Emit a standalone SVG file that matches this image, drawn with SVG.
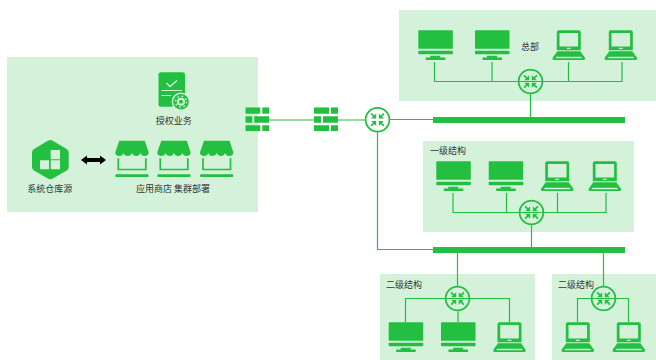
<svg xmlns="http://www.w3.org/2000/svg" width="656" height="360" viewBox="0 0 656 360">
<style>
.panel{fill:#d4f2da}
.g{fill:#22bf41}
.l{fill:#d4f2da}
.c{fill:none;stroke:#22bf41;stroke-width:1.200}
.bus{fill:#22bf41}
text{font-family:"Noto Sans CJK SC","Liberation Sans",sans-serif;font-size:9px;fill:#333}
</style>
<defs>
<symbol id="monitor" width="35" height="30" viewBox="0 0 35 30" overflow="visible">
<path class="g" d="M1 0H33.500a1 1 0 0 1 1 1V18.500H0V1a1 1 0 0 1 1-1Z"/>
<rect class="g" y="20.500" width="34.500" height="3.500" rx=".7"/>
<path class="g" d="M12 25.500H22V27.300H27V29.700H7.500V27.300H12Z"/>
</symbol>
<symbol id="laptop" width="33" height="30" viewBox="0 0 33 30" overflow="visible">
<path class="g" fill-rule="evenodd" d="M6.500 0H26.500a2 2 0 0 1 2 2V20H4.500V2A2 2 0 0 1 6.500 0ZM7.200 2.700V16.300H25.800V2.700Z"/>
<rect fill="#e8f8eb" x="14.500" y="17.500" width="4" height="1"/>
<path class="g" fill-rule="evenodd" d="M5 21H28L32.500 27.300Q33.500 29.800 31 29.800H2Q-.5 29.800 .5 27.300ZM4.500 26.500 3 28H30L28.500 26.500Z"/>
</symbol>
<symbol id="firewall" width="24" height="24" viewBox="0 0 24 24">
<path class="g" d="M0 0H15V6.500H0ZM17 0H24V6.500H17ZM0 9H7V15.500H0ZM9 9H24V15.500H9ZM0 18H15V24H0ZM17 18H24V24H17Z"/>
</symbol>
<symbol id="switch" width="26" height="26" viewBox="-13 -13 26 26">
<circle r="11.900" fill="none" stroke="#22bf41" stroke-width="1.800"/>
<g class="g">
<path d="M-1.300-1.300V-6.300L-3.300-4.300-5.800-6.800-7-5.600-4.500-3.100-6.300-1.300Z"/>
<path d="M1.300-1.300V-6.300L3.300-4.300 5.800-6.800 7-5.600 4.500-3.100 6.300-1.300Z"/>
<path d="M-1.300 1.300V6.300L-3.300 4.300-5.800 6.800-7 5.600-4.500 3.100-6.300 1.300Z"/>
<path d="M1.300 1.300V6.300L3.300 4.300 5.800 6.800 7 5.600 4.500 3.100 6.300 1.300Z"/>
</g>
</symbol>
<symbol id="store" width="34" height="37" viewBox="0 0 34 37" overflow="visible">
<path class="g" d="M4 0H29.500L33.300 11.500Q33.300 15.300 29.300 15.300 26 15.300 25 12.300 24 15.300 21 15.300 17.800 15.300 16.700 12.300 15.600 15.300 12.400 15.300 9.300 15.300 8.300 12.300 7.300 15.300 4 15.300 0 15.300 0 11.500Z"/>
<path fill="none" stroke="#22bf41" stroke-width="1.700" d="M3 17.500V28.800H30.500V17.500"/>
<rect class="g" y="33.500" width="33.300" height="2.700" rx="1"/>
</symbol>
</defs>

<g id="panels">
<rect class="panel" x="7" y="57" width="251" height="155"/>
<rect class="panel" x="399" y="10" width="257" height="91"/>
<rect class="panel" x="423" y="141" width="211" height="91"/>
<rect class="panel" x="380" y="274" width="155" height="86"/>
<rect class="panel" x="552" y="274" width="104" height="86"/>
</g>

<g id="connectors">
<path class="c" d="M269 120H314M338 120H365M390 119.500H433M377.500 132V249.500H433"/>
<path class="c" d="M434.500 62V81.500H622V62M492 62V81.500M568.500 62V81.500M530.500 94V117"/>
<path class="c" d="M453 193V212.500H606V193M506.500 193V212.500M557.500 193V212.500M531.500 225V247"/>
<path class="c" d="M457.500 253V286M405.500 322V298.500H509.500V322M458 311V322"/>
<path class="c" d="M603.500 253V286M577.500 322V298.500H628.500V322"/>
<path d="M85 160H102" stroke="#000" stroke-width="4" fill="none"/>
<path d="M81 160 87 155.500V164.500ZM106 160 100 155.500V164.500Z" fill="#000"/>
</g>

<g id="bus-1"><rect class="bus" x="433" y="117" width="192" height="6"/></g>
<g id="bus-2"><rect class="bus" x="433" y="247" width="192" height="6"/></g>

<g id="firewall-1"><use href="#firewall" x="245.300" y="107.300"/></g>
<g id="firewall-2"><use href="#firewall" x="314" y="107.300"/></g>
<g id="switch-core"><use href="#switch" x="364.500" y="106.700"/></g>

<g id="license">
<path class="g" d="M161 72.300H182.500a2.500 2.500 0 0 1 2.500 2.500V95L172 106.700H161a2.500 2.500 0 0 1-2.500-2.500V74.800A2.500 2.500 0 0 1 161 72.300Z"/>
<path d="M166.500 83 170 86.500 177 80.500" fill="none" stroke="#d4f2da" stroke-width="1.300"/>
<path d="M161.500 90.500H182M161.500 95.500H171" fill="none" stroke="#d4f2da" stroke-width="1.200"/>
<circle cx="181" cy="101.700" r="9.300" fill="#d4f2da"/>
<circle cx="181" cy="101.700" r="7.800" class="g"/>
<circle cx="181" cy="101.700" r="3" fill="none" stroke="#d4f2da" stroke-width="2"/>
<circle cx="181" cy="101.700" r="5.500" fill="none" stroke="#d4f2da" stroke-width="1.400" stroke-dasharray="1.700 2.600"/>
<text x="155.700" y="124">授权业务</text>
</g>

<g id="repo">
<path class="g" d="M48.300 140.600Q50.300 139.600 52.300 140.600L66.700 149Q68.700 150.200 68.700 152.500V167Q68.700 169.300 66.700 170.500L52.300 178.800Q50.300 179.800 48.300 178.800L34 170.500Q32 169.300 32 167V152.500Q32 150.200 34 149Z"/>
<path class="l" d="M40 160.300H49V169.300H40ZM50.700 160.300H60V169.300H50.700ZM50.700 150H60V159.300H50.700Z"/>
<text x="27.300" y="192">系统仓库源</text>
</g>

<g id="store-1"><use href="#store" x="115.300" y="140.700"/></g>
<g id="store-2"><use href="#store" x="157.300" y="140.700"/></g>
<g id="store-3"><use href="#store" x="200" y="140.700"/></g>
<text x="136" y="192">应用商店 集群部署</text>

<g id="hq">
<use href="#monitor" x="418.300" y="30.300"/>
<use href="#monitor" x="475" y="30.300"/>
<use href="#laptop" x="552.300" y="30.300"/>
<use href="#laptop" x="604.300" y="30.300"/>
<use href="#switch" x="517.500" y="68.500"/>
<text x="521" y="50">总部</text>
</g>

<g id="level-1">
<use href="#monitor" x="436.300" y="161.300"/>
<use href="#monitor" x="488.700" y="161.300"/>
<use href="#laptop" x="540.700" y="161.300"/>
<use href="#laptop" x="588.300" y="161.300"/>
<use href="#switch" x="518.500" y="199.500"/>
<text x="430" y="154">一级结构</text>
</g>

<g id="level-2a">
<use href="#monitor" x="388.700" y="322.300"/>
<use href="#monitor" x="441" y="322.300"/>
<use href="#laptop" x="493" y="322.300"/>
<use href="#switch" x="444.500" y="285.500"/>
<text x="386" y="288">二级结构</text>
</g>

<g id="level-2b">
<use href="#laptop" x="561.300" y="322.300"/>
<use href="#laptop" x="612.300" y="322.300"/>
<use href="#switch" x="590.500" y="285.500"/>
<text x="558" y="288">二级结构</text>
</g>
</svg>
